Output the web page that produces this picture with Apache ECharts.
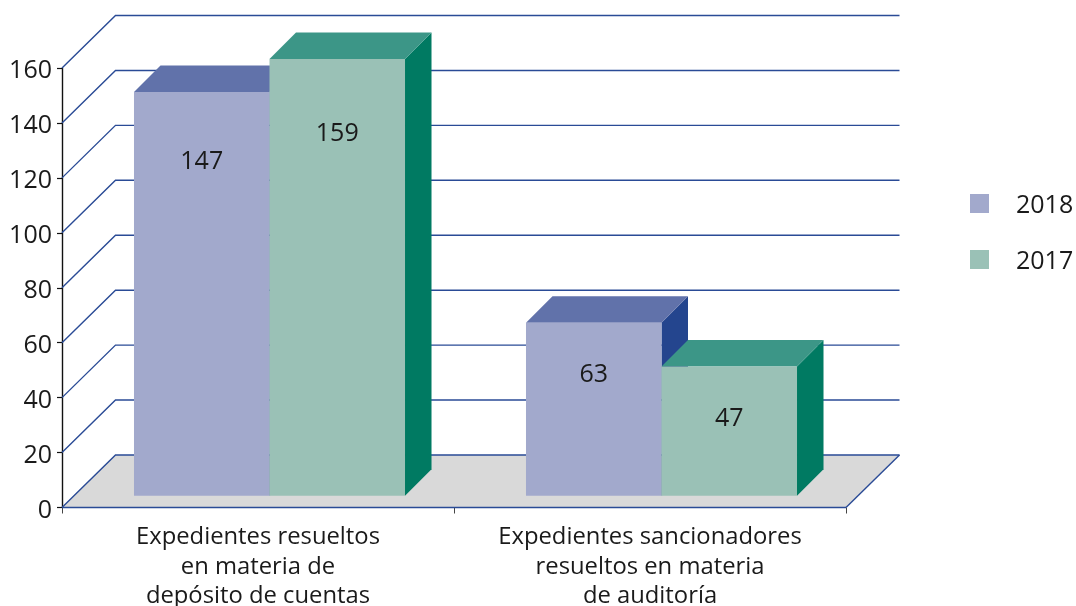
<!DOCTYPE html>
<html>
<head>
<meta charset="utf-8">
<style>html,body{margin:0;padding:0;background:#fff}#c{width:1076px;height:606px}</style>
<script src="https://cdn.jsdelivr.net/npm/echarts@6/dist/echarts.min.js"></script>
</head>
<body>
<div id="c"></div>
<script>
const categories = ['Expedientes resueltos\nen materia de\ndepósito de cuentas', 'Expedientes sancionadores\nresueltos en materia\nde auditoría'];
const years = ['2018', '2017'];
const values2018 = [147, 63];
const values2017 = [159, 47];
const yTicks = [0, 20, 40, 60, 80, 100, 120, 140, 160];

const FONT = '"Open Sans","Noto Sans",sans-serif';
const TEXT = '#1a1a1a';
const WALL_X = 53.5, WALL_Y = 52.5, BAR_SHIFT_X = 11.5, BAR_SHIFT_Y = 11.8, BAR_DEPTH = 26.5, BAR_RATIO = 0.3457;
const LINE = '#2a4b96';
const LABEL_DROP = [[69.5, 52.5], [75, 52.5]];
const FACES = [
  {front: '#a2a9cc', top: '#6172aa', side: '#24458e'},
  {front: '#9ac1b6', top: '#3c9687', side: '#007a62'}
];

function poly(points, fill) {
  return {type: 'polygon', shape: {points}, style: {fill}};
}

function wallItem(params, api) {
  const v = api.value(1);
  const c = api.coord([0, v]);
  const band = api.size([1, 0])[0];
  const left = c[0] - band / 2, right = left + 2 * band, y = c[1];
  const children = [];
  if (v === 0) {
    children.push(poly([[left, y], [right, y], [right + WALL_X, y - WALL_Y], [left + WALL_X, y - WALL_Y]], '#d9d9d9'));
    children.push({type: 'line', shape: {x1: left, y1: y, x2: right, y2: y}, style: {stroke: LINE, lineWidth: 1.4}});
    children.push({type: 'line', shape: {x1: right, y1: y, x2: right + WALL_X, y2: y - WALL_Y}, style: {stroke: LINE, lineWidth: 1.4}});
  }
  children.push({type: 'polyline', shape: {points: [[left, y], [left + WALL_X, y - WALL_Y], [right + WALL_X, y - WALL_Y]]},
    style: {stroke: LINE, lineWidth: 1.4, fill: null}});
  return {type: 'group', children};
}

function barItem(seriesIdx) {
  return function (params, api) {
    const i = api.value(0), v = api.value(1);
    const c = api.coord([i, v]);
    const z = api.coord([i, 0]);
    const w = api.size([1, 0])[0] * BAR_RATIO;
    const x0 = c[0] + BAR_SHIFT_X + (seriesIdx === 0 ? -w : 0), x1 = x0 + w;
    const yt = c[1] - BAR_SHIFT_Y, yb = z[1] - BAR_SHIFT_Y;
    const d = BAR_DEPTH, f = FACES[seriesIdx];
    return {type: 'group', children: [
      poly([[x1, yt], [x1 + d, yt - d], [x1 + d, yb - d], [x1, yb]], f.side),
      poly([[x0, yt], [x0 + d, yt - d], [x1 + d, yt - d], [x1, yt]], f.top),
      poly([[x0, yt], [x1, yt], [x1, yb], [x0, yb]], f.front),
      {type: 'text', style: {text: String(v), x: (x0 + x1) / 2, y: yt + LABEL_DROP[seriesIdx][i],
        align: 'center', verticalAlign: 'middle', fill: TEXT, font: '25px ' + FONT}}
    ]};
  };
}

const chart = echarts.init(document.getElementById('c'), null, {renderer: 'canvas'});
chart.setOption({
  animation: false,
  backgroundColor: '#fff',
  textStyle: {fontFamily: FONT},
  grid: {left: 62, right: 230, top: 68, bottom: 98.5, outerBoundsMode: 'none', containLabel: false},
  legend: {
    data: years, orient: 'vertical', left: 970, top: 192, itemWidth: 19, itemHeight: 19,
    itemGap: 30, icon: 'rect', padding: 0, selectedMode: false,
    formatter: name => '{t|' + name + '}',
    textStyle: {fontFamily: FONT, fontSize: 25, color: TEXT, lineHeight: 19,
      rich: {t: {fontFamily: FONT, fontSize: 25, color: TEXT, height: 19, lineHeight: 19, padding: [4, 0, 0, 22]}}}
  },
  xAxis: {
    type: 'category', data: categories, boundaryGap: true,
    axisLine: {show: false},
    axisTick: {show: true, length: 6, alignWithLabel: false, lineStyle: {color: '#444', width: 1}},
    axisLabel: {fontFamily: FONT, fontSize: 23.8, color: TEXT, lineHeight: 29.5, margin: 15, interval: 0}
  },
  yAxis: {
    type: 'value', min: 0, max: 160, interval: 20,
    splitLine: {show: false},
    axisLine: {show: true, lineStyle: {color: '#111', width: 1.4}},
    axisTick: {show: true, length: 5, lineStyle: {color: '#111', width: 1.2}},
    axisLabel: {fontFamily: FONT, fontSize: 25, color: TEXT, margin: 10, verticalAlign: 'top', lineHeight: 6}
  },
  series: [
    {type: 'custom', name: 'wall', z: 1, renderItem: wallItem, silent: true,
      encode: {x: 0, y: 1}, data: yTicks.map(v => [0, v])},
    {type: 'custom', name: years[0], z: 2, renderItem: barItem(0), itemStyle: {color: FACES[0].front},
      encode: {x: 0, y: 1}, data: values2018.map((v, i) => [i, v])},
    {type: 'custom', name: years[1], z: 3, renderItem: barItem(1), itemStyle: {color: FACES[1].front},
      encode: {x: 0, y: 1}, data: values2017.map((v, i) => [i, v])}
  ]
});
</script>
</body>
</html>
